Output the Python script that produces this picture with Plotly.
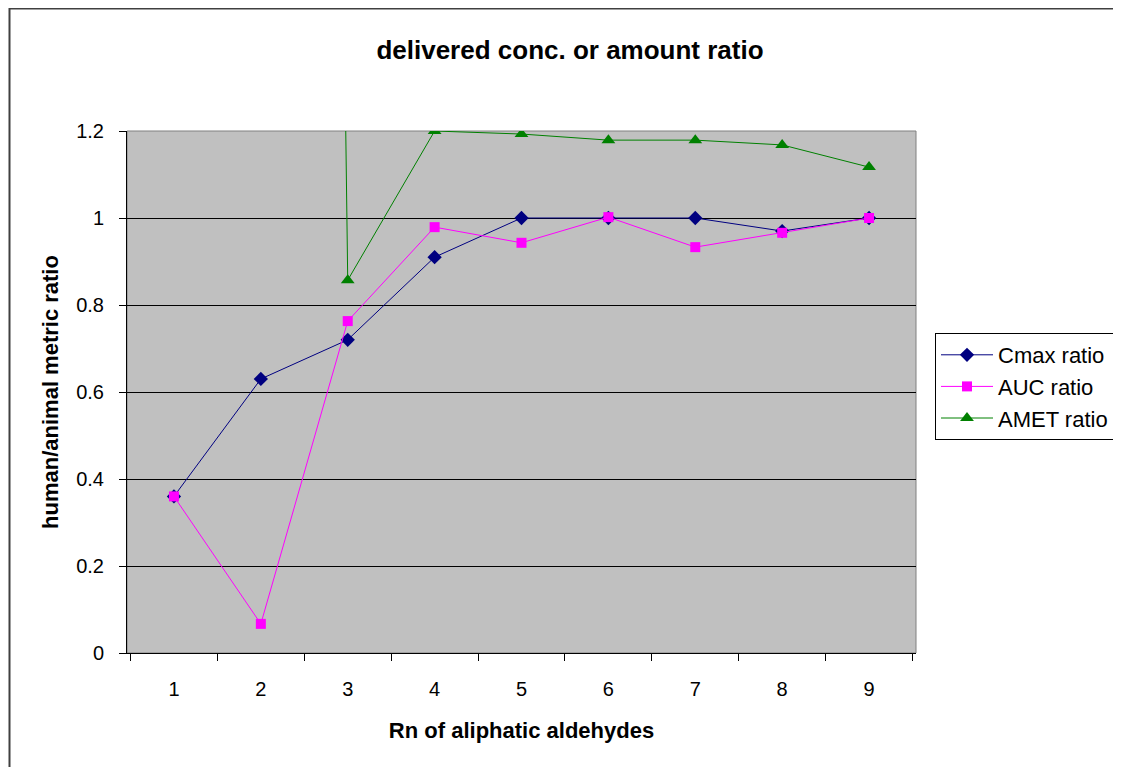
import plotly.graph_objects as go

categories = ["1", "2", "3", "4", "5", "6", "7", "8", "9"]
cmax_ratio = [0.36, 0.63, 0.72, 0.91, 1.0, 1.0, 1.0, 0.97, 1.0]
auc_ratio = [0.36, 0.067, 0.763, 0.979, 0.943, 1.002, 0.933, 0.966, 1.0]
amet_ratio = [None, 16.0, 0.857, 1.2, 1.193, 1.179, 1.179, 1.168, 1.117]
y_ticks = [0, 0.2, 0.4, 0.6, 0.8, 1.0, 1.2]
y_tick_labels = ["0", "0.2", "0.4", "0.6", "0.8", "1", "1.2"]

FONT = "Arial, Liberation Sans, sans-serif"

fig = go.Figure()
fig.add_trace(go.Scatter(x=categories, y=cmax_ratio, name="Cmax ratio", mode="lines+markers",
                         line=dict(color="#000080", width=1),
                         marker=dict(symbol="diamond", size=11, color="#000080")))
fig.add_trace(go.Scatter(x=categories, y=auc_ratio, name="AUC ratio", mode="lines+markers",
                         line=dict(color="#FF00FF", width=1),
                         marker=dict(symbol="square", size=10, color="#FF00FF")))
fig.add_trace(go.Scatter(x=categories, y=amet_ratio, name="AMET ratio", mode="lines+markers",
                         line=dict(color="#008000", width=1),
                         marker=dict(symbol="triangle-up", size=12, color="#008000"),
                         connectgaps=False))

# figure-pixel geometry (page body adds an 8px offset in the screenshot)
W, H = 1121, 767
L, R, T, B = 119, 213, 123, 122
pw, ph = W - L - R, H - T - B

def px_x(p):
    return (p - L) / pw

def px_y(p):
    return (H - B - p) / ph

fig.update_layout(
    width=W, height=H, autosize=False,
    margin=dict(l=L, r=R, t=T, b=B),
    paper_bgcolor="white", plot_bgcolor="#C0C0C0",
    font=dict(family=FONT, size=20, color="black"),
    title=dict(text="<b>delivered conc. or amount ratio</b>", x=562 / W, xanchor="center",
               y=1 - 42 / H, yanchor="middle", font=dict(size=26, family=FONT, color="black")),
    xaxis=dict(type="category", tickson="boundaries", ticks="outside", ticklen=7, tickcolor="black",
               showline=True, linecolor="black", linewidth=1, showgrid=False, zeroline=False,
               ticklabelstandoff=18, tickfont=dict(size=20),
               title=dict(text="<b>Rn of aliphatic aldehydes</b>", font=dict(size=22, family=FONT), standoff=23)),
    yaxis=dict(range=[0, 1.2], tickvals=y_ticks, ticktext=y_tick_labels, ticks="outside", ticklen=7,
               tickcolor="black", showline=True, linecolor="black", linewidth=1,
               showgrid=True, gridcolor="black", gridwidth=1, zeroline=False, ticklabelstandoff=11,
               tickfont=dict(size=20),
               title=dict(text="<b>human/animal metric ratio</b>", font=dict(size=22, family=FONT), standoff=11)),
    legend=dict(x=px_x(927), y=px_y(325), xanchor="left", yanchor="top",
                bgcolor="white", bordercolor="black", borderwidth=1,
                font=dict(size=22, family=FONT), tracegroupgap=0, itemwidth=52),
    showlegend=True,
)

# Plot area border (gray, Excel style) and outer chart border
fig.add_shape(type="rect", xref="paper", yref="paper", x0=0, x1=1, y0=0, y1=1,
              line=dict(color="#808080", width=1), layer="below")
fig.add_shape(type="rect", xref="paper", yref="paper", x0=px_x(1.5), x1=px_x(1300),
              y0=px_y(1000), y1=px_y(0.5), line=dict(color="#404040", width=2), layer="below")

fig.write_html("out.html")
